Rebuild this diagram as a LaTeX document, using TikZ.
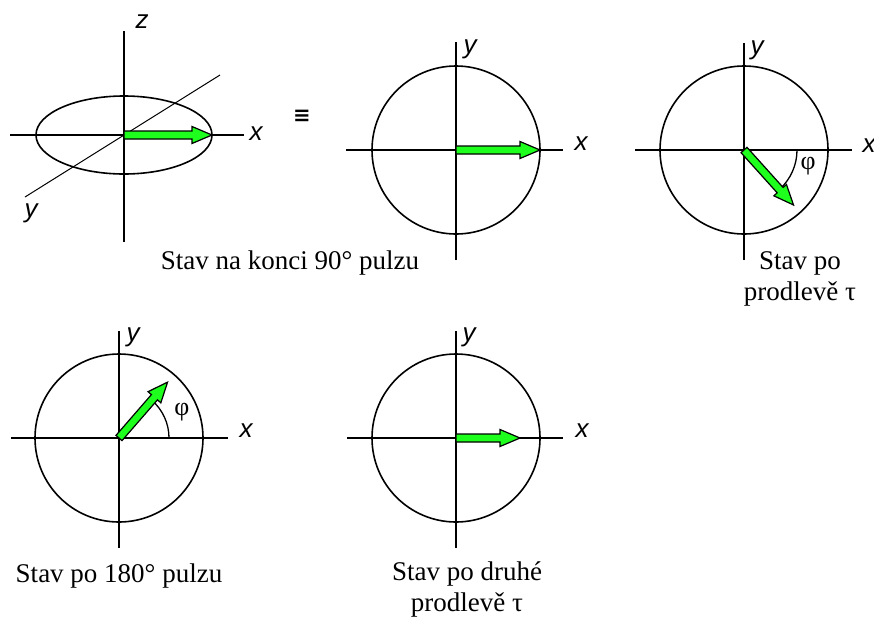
\documentclass[tikz,border=0pt]{standalone}
\usepackage{fontspec}
\setmainfont{Liberation Serif}
\newfontfamily\axfont{Liberation Sans}
\newfontfamily\symfont{DejaVu Sans}
\definecolor{vecgreen}{RGB}{30,255,30}
\newcommand\gvec[3]{%
  \begin{scope}[shift={#1},rotate=#2]
    \draw[vec] (0,-4) -- (#3-20,-4) -- (#3-20,-8.5) -- (#3,0) -- (#3-20,8.5) -- (#3-20,4) -- (0,4) -- cycle;
  \end{scope}}
\begin{document}
\begin{tikzpicture}[x=1pt,y=-1pt,
  ax/.style={line width=1.5pt},
  circ/.style={line width=1.6pt},
  vec/.style={fill=vecgreen, draw=black, line width=1.2pt, line join=miter},
  axl/.style={font=\fontsize{26}{26}\axfont\itshape, inner sep=0pt},
  capt/.style={font=\fontsize{27}{31}\selectfont, align=center, inner sep=0pt, anchor=base},
  ang/.style={line width=1.3pt},
  phil/.style={font=\fontsize{26}{26}\selectfont, inner sep=0pt}]
\useasboundingbox (0,0) rectangle (874,619);

% ---------- panel 1: 3D view ----------
\coordinate (o1) at (124,135);
\draw[ax] (124,31) -- (124,242);
\draw[ax] (10,135) -- (244,135);
\draw[line width=1pt] (25,197) -- (220,75);
\draw[circ] (o1) ellipse [x radius=88, y radius=39];
\gvec{(o1)}{0}{88}
\node[axl] (z1) at (142,22) {z};
\node[axl] (x1) at (256,134) {x};
\node[axl] (y1) at (31,213) {y};
\node[font=\fontsize{21}{21}\symfont\bfseries, inner sep=0pt] (eq) at (302,116) {≡};

% ---------- panel 2 ----------
\coordinate (o2) at (456,150);
\draw[ax] (456,42) -- (456,260);
\draw[ax] (346,150) -- (563,150);
\draw[circ] (o2) circle [radius=84];
\gvec{(o2)}{0}{84}
\node[axl] (y2) at (470,49) {y};
\node[axl] (x2) at (581,144) {x};
\node[capt] (c1) at (290,269) {Stav na konci 90° pulzu};

% ---------- panel 3 ----------
\coordinate (o3) at (744,150);
\draw[ax] (744,43) -- (744,260);
\draw[ax] (635,150) -- (852,150);
\draw[circ] (o3) circle [radius=84];
\draw[ang] (797,150) arc [start angle=0, end angle=48, radius=53];
\gvec{(o3)}{-48}{74}
\node[axl] (y3) at (757,50) {y};
\node[axl] (x3) at (869,146) {x};
\node[phil] (p3) at (808,166) {φ};
\node[capt] (c2) at (800,300) {Stav po\\prodlevě τ};

% ---------- panel 4 ----------
\coordinate (o4) at (119,438);
\draw[ax] (119,331) -- (119,548);
\draw[ax] (11,438) -- (228,438);
\draw[circ] (o4) circle [radius=84];
\draw[ang] (169,438) arc [start angle=0, end angle=-49, radius=50];
\gvec{(o4)}{49}{74}
\node[axl] (y4) at (133,337) {y};
\node[axl] (x4) at (246,431) {x};
\node[phil] (p4) at (182,412) {φ};
\node[capt] (c3) at (119,582) {Stav po 180° pulzu};

% ---------- panel 5 ----------
\coordinate (o5) at (456,438);
\draw[ax] (456,331) -- (456,548);
\draw[ax] (347,438) -- (563,438);
\draw[circ] (o5) circle [radius=84];
\gvec{(o5)}{0}{64}
\node[axl] (y5) at (469,337) {y};
\node[axl] (x5) at (582,431) {x};
\node[capt] (c4) at (467,611) {Stav po druhé\\prodlevě τ};
\end{tikzpicture}
\end{document}
